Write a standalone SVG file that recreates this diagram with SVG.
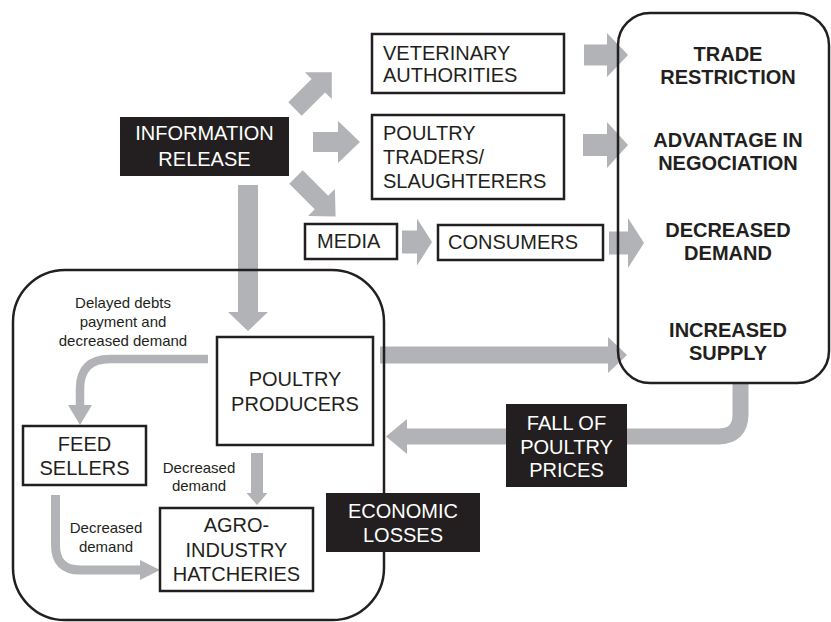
<svg xmlns="http://www.w3.org/2000/svg" width="831" height="622" viewBox="0 0 831 622">
<style>
text{font-family:"Liberation Sans",Arial,sans-serif;fill:#231f20}
.t{font-size:20px}
.b{font-size:20px;font-weight:bold;text-anchor:middle}
.w{fill:#ffffff;font-size:20px;text-anchor:middle}
.m{text-anchor:middle}
.l{font-size:15px;text-anchor:middle}
.box{fill:#ffffff;stroke:#231f20;stroke-width:2.5}
.dark{fill:#231f20}
.cont{fill:none;stroke:#231f20;stroke-width:2.5}
.arr{fill:#b1b3b6}
.arrs{fill:none;stroke:#b1b3b6}
</style>
<g id="connectors">
<polygon class="arr" points="313,132 338,132 338,121 360,142 338,163 338,152 313,152"/>
<polygon class="arr" transform="translate(295,109) rotate(-45)" points="0,-9.5 33,-9.5 33,-19 52,0 33,19 33,9.5 0,9.5"/>
<polygon class="arr" transform="translate(296,177) rotate(45)" points="0,-9.5 36,-9.5 36,-19 56,0 36,19 36,9.5 0,9.5"/>
<polygon class="arr" points="584,44.5 607,44.5 607,33 628,55 607,77 607,65.5 584,65.5"/>
<polygon class="arr" points="583,134 607,134 607,122 628,145 607,168 607,156 583,156"/>
<polygon class="arr" points="402,230.5 417,230.5 417,218.5 432,242 417,265.5 417,253.5 402,253.5"/>
<polygon class="arr" points="609,231.5 628,231.5 628,218 644,243 628,268 628,254.5 609,254.5"/>
<polygon class="arr" points="380,346.5 608,346.5 608,337 627,355 608,373 608,363.5 380,363.5"/>
<polygon class="arr" points="238,185 258,185 258,312 268,312 248,331 228,312 238,312"/>
<polygon class="arr" points="251,453 263,453 263,493 267.5,493 257,505 246.5,493 251,493"/>
<path class="arrs" stroke-width="16" d="M740.5,383 V414 Q740.5,436.5 718,436.5 H405"/>
<polygon class="arr" points="407,419 386,436.5 407,454"/>
<path class="arrs" stroke-width="8.5" d="M208,359 H110 Q80,359 80,389 V406"/>
<polygon class="arr" points="68,405 92,405 80,425"/>
<path class="arrs" stroke-width="9" d="M55.5,495 V545 Q55.5,570 80,570 H141"/>
<polygon class="arr" points="140,560 160,570 140,580"/>
</g>
<g id="producer-side">
<rect class="cont" x="13" y="270" width="371" height="350" rx="52" ry="52"/>
</g>
<g id="outcomes">
<rect class="cont" x="618" y="13" width="211" height="370" rx="32" ry="32"/>
<text class="b" x="728" y="61">TRADE</text>
<text class="b" x="728" y="84">RESTRICTION</text>
<text class="b" x="728" y="147">ADVANTAGE IN</text>
<text class="b" x="728" y="170">NEGOCIATION</text>
<text class="b" x="728" y="237">DECREASED</text>
<text class="b" x="728" y="260">DEMAND</text>
<text class="b" x="728" y="337">INCREASED</text>
<text class="b" x="728" y="360">SUPPLY</text>
</g>
<g id="information-release">
<rect class="dark" x="120" y="117" width="169" height="59"/>
<text class="w" x="204.5" y="140">INFORMATION</text>
<text class="w" x="204.5" y="166">RELEASE</text>
</g>
<g id="veterinary-authorities">
<rect class="box" x="372" y="34" width="192" height="59"/>
<text class="t" x="383" y="60">VETERINARY</text>
<text class="t" x="383" y="82">AUTHORITIES</text>
</g>
<g id="poultry-traders">
<rect class="box" x="372" y="115" width="192" height="84"/>
<text class="t" x="383" y="140">POULTRY</text>
<text class="t" x="383" y="164">TRADERS/</text>
<text class="t" x="383" y="188">SLAUGHTERERS</text>
</g>
<g id="media">
<rect class="box" x="305" y="224" width="92" height="35"/>
<text class="t" x="317" y="248">MEDIA</text>
</g>
<g id="consumers">
<rect class="box" x="438" y="225" width="165" height="35"/>
<text class="t" x="448" y="249">CONSUMERS</text>
</g>
<g id="poultry-producers">
<rect class="box" x="217" y="337" width="156" height="108"/>
<text class="t m" x="295" y="386">POULTRY</text>
<text class="t m" x="295" y="411">PRODUCERS</text>
</g>
<g id="feed-sellers">
<rect class="box" x="23" y="426" width="123" height="59"/>
<text class="t m" x="84.5" y="451">FEED</text>
<text class="t m" x="84.5" y="475">SELLERS</text>
</g>
<g id="hatcheries">
<rect class="box" x="160" y="508" width="153" height="83"/>
<text class="t m" x="236.5" y="532">AGRO-</text>
<text class="t m" x="236.5" y="557">INDUSTRY</text>
<text class="t m" x="236.5" y="581">HATCHERIES</text>
</g>
<g id="fall-of-prices">
<rect class="dark" x="506" y="404" width="121" height="83"/>
<text class="w" x="566.5" y="430">FALL OF</text>
<text class="w" x="566.5" y="454">POULTRY</text>
<text class="w" x="566.5" y="477">PRICES</text>
</g>
<g id="economic-losses">
<rect class="dark" x="326" y="493" width="154" height="59"/>
<text class="w" x="403" y="518">ECONOMIC</text>
<text class="w" x="403" y="542">LOSSES</text>
</g>
<g id="labels">
<text class="l" x="123" y="308">Delayed debts</text>
<text class="l" x="123" y="327">payment and</text>
<text class="l" x="123" y="346">decreased demand</text>
<text class="l" x="199" y="473">Decreased</text>
<text class="l" x="199" y="491">demand</text>
<text class="l" x="106" y="533">Decreased</text>
<text class="l" x="106" y="552">demand</text>
</g>
</svg>
